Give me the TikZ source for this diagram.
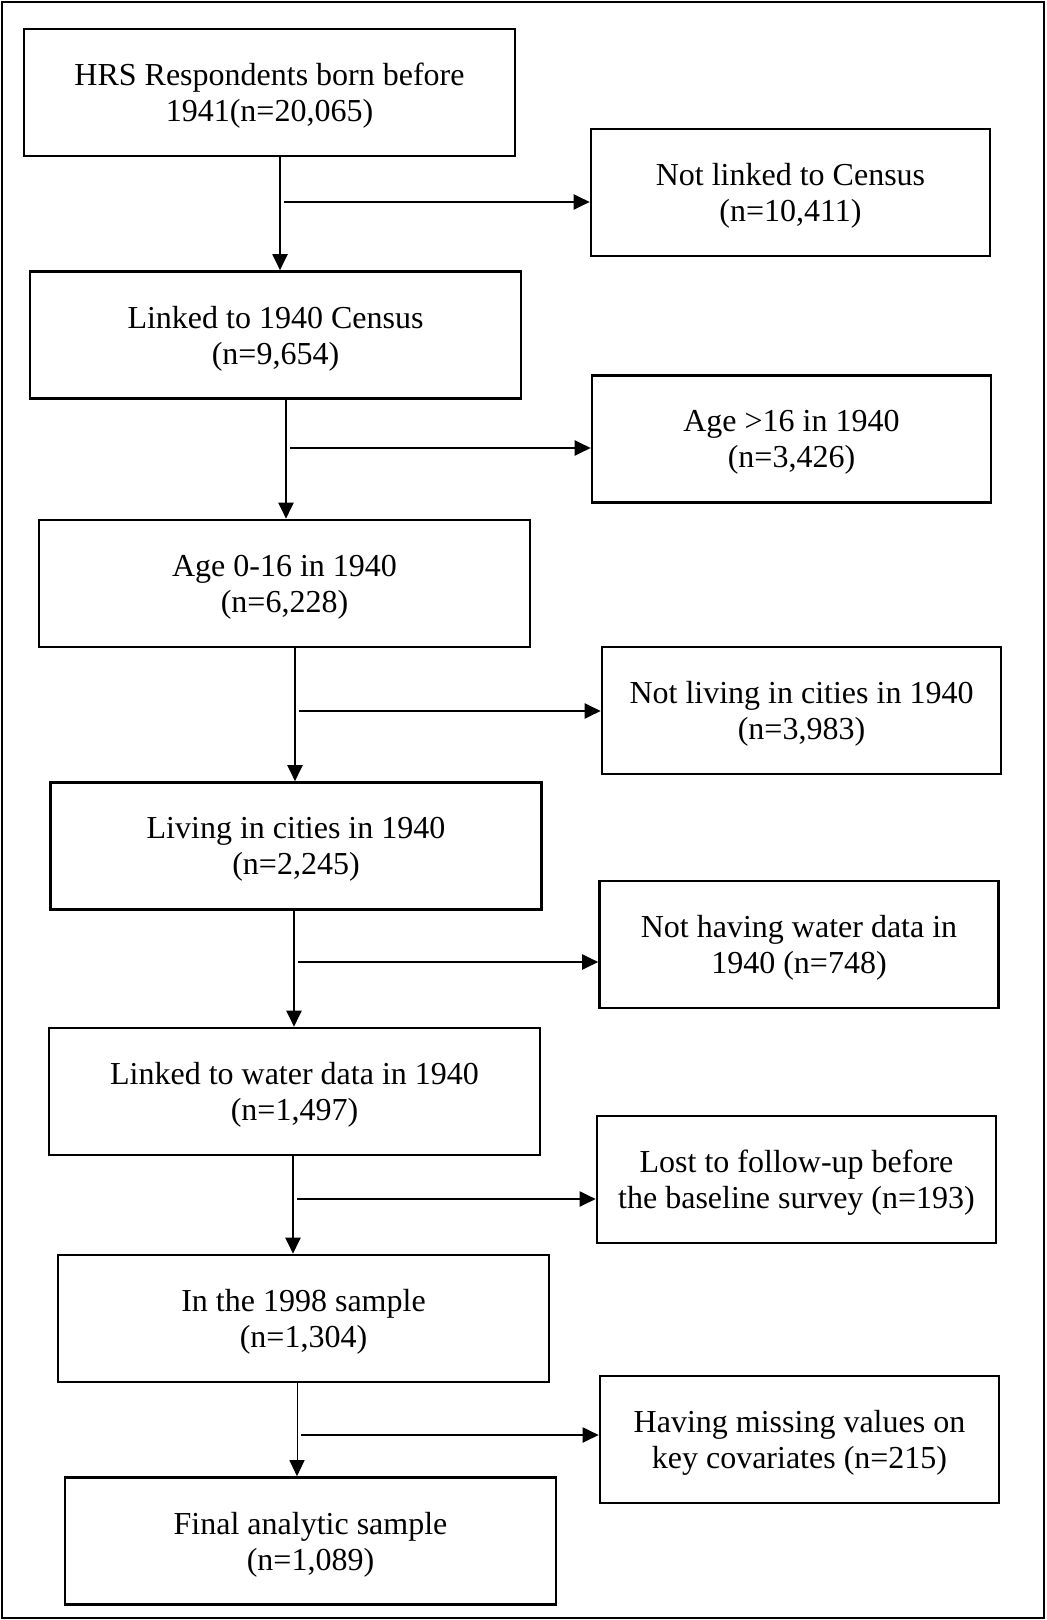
\documentclass[tikz,border=0pt]{standalone}
\usepackage{fontspec}
\setmainfont{Liberation Serif}
\usetikzlibrary{arrows.meta,positioning}
\tikzset{
    stagebox/.style={draw, line width=1.3pt, minimum width=245.5pt, minimum height=63.5pt, align=center, inner sep=0pt, text depth=-1pt, font=\fontsize{16}{18}\selectfont},
    exclbox/.style={stagebox, minimum width=199.5pt},
    flowarrow/.style={line width=1pt, -{Triangle[length=8pt, width=7.5pt]}}
}

\begin{document}
\begin{tikzpicture}[x=0.5pt, y=-0.5pt]
    \useasboundingbox (0,0) rectangle (1046,1620);
    \draw[line width=1pt] (2,2) rectangle (1044,1618);
    % main stages
    \node[stagebox] (hrs) at (269.5,92.5) {HRS Respondents born before\\1941(n=20,065)};
    \node[stagebox] (linked) at (275.5,335) {Linked to 1940 Census\\(n=9,654)};
    \node[stagebox] (age) at (284.5,583.5) {Age 0-16 in 1940\\(n=6,228)};
    \node[stagebox] (cities) at (296,846) {Living in cities in 1940\\(n=2,245)};
    \node[stagebox] (water) at (294.5,1091.5) {Linked to water data in 1940\\(n=1,497)};
    \node[stagebox] (sample) at (303.5,1318.5) {In the 1998 sample\\(n=1,304)};
    \node[stagebox] (final) at (310.5,1541) {Final analytic sample\\(n=1,089)};
    % exclusions
    \node[exclbox] (nocensus) at (790.5,192.5) {Not linked to Census\\(n=10,411)};
    \node[exclbox] (older) at (791.5,439) {Age >16 in 1940\\(n=3,426)};
    \node[exclbox] (nocity) at (801.5,710.5) {Not living in cities in 1940\\(n=3,983)};
    \node[exclbox] (nowater) at (799,944.5) {Not having water data in\\1940 (n=748)};
    \node[exclbox] (lost) at (796.5,1179.5) {Lost to follow-up before\\the baseline survey (n=193)};
    \node[exclbox] (missing) at (799.5,1439.5) {Having missing values on\\key covariates (n=215)};
    % split points
    \coordinate (s1) at (280,202);
    \coordinate (s2) at (286,448);
    \coordinate (s3) at (295,711);
    \coordinate (s4) at (294,962);
    \coordinate (s5) at (293,1199);
    \coordinate (s6) at (297,1435);
    % arrows
    \draw[flowarrow] (hrs.south -| s1) -- (linked.north -| s1);
    \draw[flowarrow] ([xshift=2pt]s1) -- (nocensus.west |- s1);
    \draw[flowarrow] (linked.south -| s2) -- (age.north -| s2);
    \draw[flowarrow] ([xshift=2pt]s2) -- (older.west |- s2);
    \draw[flowarrow] (age.south -| s3) -- (cities.north -| s3);
    \draw[flowarrow] ([xshift=2pt]s3) -- (nocity.west |- s3);
    \draw[flowarrow] (cities.south -| s4) -- (water.north -| s4);
    \draw[flowarrow] ([xshift=2pt]s4) -- (nowater.west |- s4);
    \draw[flowarrow] (water.south -| s5) -- (sample.north -| s5);
    \draw[flowarrow] ([xshift=2pt]s5) -- (lost.west |- s5);
    \draw[flowarrow, line width=0.5pt] (sample.south -| s6) -- (final.north -| s6);
    \draw[flowarrow] ([xshift=2pt]s6) -- (missing.west |- s6);
\end{tikzpicture}
\end{document}
